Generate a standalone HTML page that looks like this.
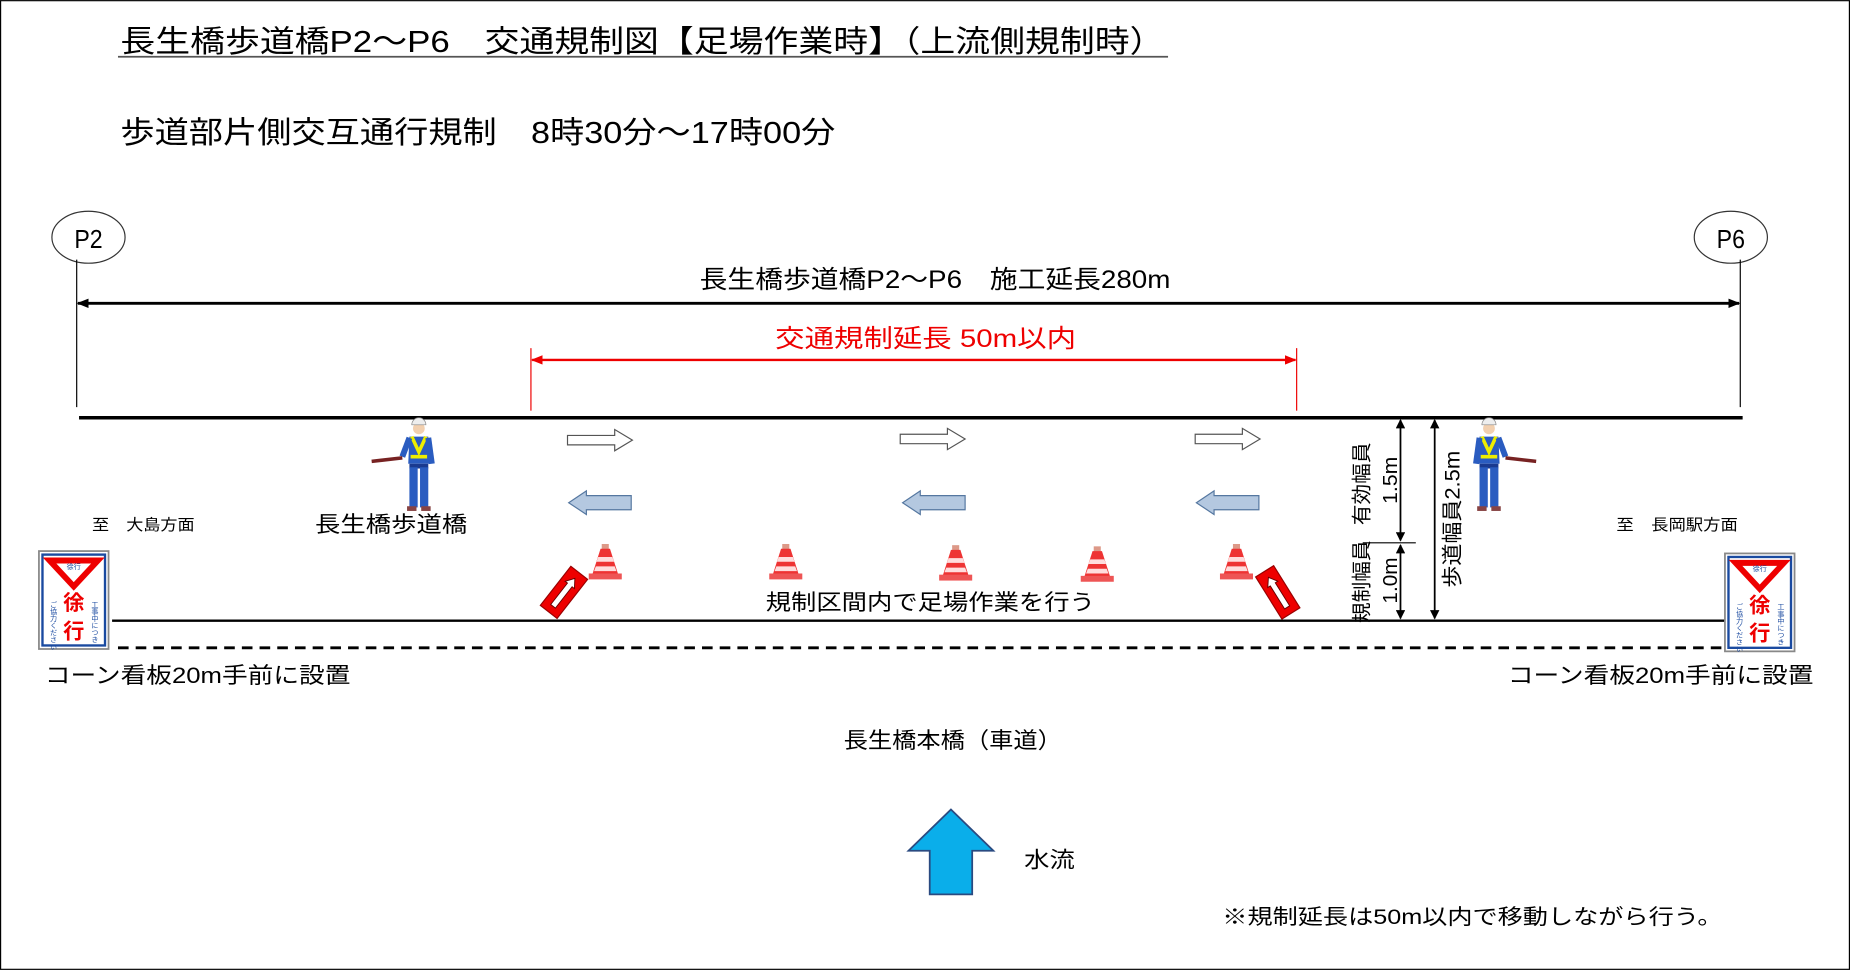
<!DOCTYPE html>
<html><head><meta charset="utf-8"><style>
html,body{margin:0;padding:0;background:#fff;}
svg{display:block;}
text{font-family:"Liberation Sans","Noto Sans CJK JP",sans-serif;fill:#000;}
</style></head><body>
<svg width="1850" height="970" viewBox="0 0 1568 822" xmlns="http://www.w3.org/2000/svg">
<defs>
<marker id="ab" markerWidth="10" markerHeight="8" refX="9" refY="4" orient="auto-start-reverse" markerUnits="userSpaceOnUse"><path d="M0,0 L10,4 L0,8 Z" fill="#000"/></marker>
<marker id="ar" markerWidth="10" markerHeight="8" refX="9" refY="4" orient="auto-start-reverse" markerUnits="userSpaceOnUse"><path d="M0,0 L10,4 L0,8 Z" fill="#e00"/></marker>
<marker id="as" markerWidth="8" markerHeight="8" refX="7" refY="4" orient="auto-start-reverse" markerUnits="userSpaceOnUse"><path d="M0,0 L8,4 L0,8 Z" fill="#000"/></marker>
<g id="cone">
<rect x="-3" y="0" width="6" height="5" fill="#d98"/>
<path d="M-4,4 L4,4 L11,26 L-11,26 Z" fill="#e33"/>
<path d="M-6,11 L6,11 L7.5,15 L-7.5,15 Z" fill="#fdd"/>
<path d="M-8,19 L8,19 L9.5,23 L-9.5,23 Z" fill="#fdd"/>
<rect x="-14" y="25" width="28" height="5" fill="#e55"/>
</g>
<g id="rsign">
<rect x="-9" y="-21" width="18" height="42" fill="#e00" stroke="#900" stroke-width="1"/>
<path d="M0,-15 L5,-8 L2.5,-8 L2.5,15 L-2.5,15 L-2.5,-8 L-5,-8 Z" fill="#fff" stroke="#600" stroke-width="0.8"/>
</g>
<g id="rarrow"><path d="M0,-4 L40,-4 L40,-9 L55,0 L40,9 L40,4 L0,4 Z" fill="#fff" stroke="#555" stroke-width="1"/></g>
<g id="larrow"><path d="M53,-6 L15,-6 L15,-10 L0,0 L15,10 L15,6 L53,6 Z" fill="#b4c8e0" stroke="#5577a0" stroke-width="1"/></g>
<g id="board">
<rect x="0" y="0" width="59" height="83" fill="#fff" stroke="#888" stroke-width="1.5"/>
<rect x="3" y="3" width="53" height="77" fill="#fff" stroke="#1a4aa0" stroke-width="2"/>
<path d="M9,8 L50,8 L29.5,30 Z" fill="#fff" stroke="#e00" stroke-width="5"/>
<text x="29.5" y="15" font-size="6" text-anchor="middle" style="fill:#1a4aa0">徐行</text>
<text x="29.5" y="50" font-size="18" font-weight="bold" text-anchor="middle" style="fill:#e00">徐</text>
<text x="29.5" y="74" font-size="18" font-weight="bold" text-anchor="middle" style="fill:#e00">行</text>
<text x="12" y="42" font-size="6" style="fill:#1a4aa0" writing-mode="tb">ご協力ください</text>
<text x="47" y="42" font-size="6" style="fill:#1a4aa0" writing-mode="tb">工事中につき</text>
</g>
<g id="worker">
<circle cx="0" cy="0" r="5" fill="#f2d0b0"/>
<path d="M-6,-3 A6,6 0 0 1 6,-3 Z" fill="#eee" stroke="#888" stroke-width="0.6"/>
<path d="M-8,7 L8,7 L9,30 L-9,30 Z" fill="#2a5cc0"/>
<path d="M-6,7 L0,20 L6,7 M-7,24 L7,24" stroke="#ee0" stroke-width="3" fill="none"/>
<rect x="-8" y="30" width="16" height="4" fill="#1a3a90"/>
<rect x="-8" y="33" width="7" height="34" fill="#2a5cc0"/>
<rect x="1" y="33" width="7" height="34" fill="#2a5cc0"/>
<rect x="-10" y="66" width="8" height="4" fill="#844"/>
<rect x="2" y="66" width="8" height="4" fill="#844"/>
<path d="M8,8 L11,30" stroke="#2a5cc0" stroke-width="5"/>
<path d="M-8,8 L-14,24" stroke="#2a5cc0" stroke-width="5"/>
<path d="M-14,25 L-40,28" stroke="#722" stroke-width="3"/>
</g>
</defs>
<rect x="0.5" y="0.5" width="1567" height="821" fill="#fff" stroke="#000" stroke-width="1"/>

<text x="102" y="44" font-size="26" textLength="885" lengthAdjust="spacingAndGlyphs">長生橋歩道橋P2～P6　交通規制図【足場作業時】（上流側規制時）</text>
<line x1="100" y1="48" x2="990" y2="48" stroke="#555" stroke-width="1.5"/>
<text x="102" y="121" font-size="26" textLength="606" lengthAdjust="spacingAndGlyphs">歩道部片側交互通行規制　8時30分～17時00分</text>

<ellipse cx="75" cy="201" rx="31" ry="22" fill="#fff" stroke="#333" stroke-width="1"/>
<text x="75" y="210" font-size="22" text-anchor="middle" textLength="24" lengthAdjust="spacingAndGlyphs">P2</text>
<ellipse cx="1467" cy="201" rx="31" ry="22" fill="#fff" stroke="#333" stroke-width="1"/>
<text x="1467" y="210" font-size="22" text-anchor="middle" textLength="24" lengthAdjust="spacingAndGlyphs">P6</text>

<text x="593" y="244" font-size="21" textLength="399" lengthAdjust="spacingAndGlyphs">長生橋歩道橋P2～P6　施工延長280m</text>
<line x1="65" y1="220" x2="65" y2="345" stroke="#000" stroke-width="1"/>
<line x1="1475" y1="220" x2="1475" y2="345" stroke="#000" stroke-width="1"/>
<line x1="66" y1="257" x2="1474" y2="257" stroke="#000" stroke-width="2.5" marker-start="url(#ab)" marker-end="url(#ab)"/>

<text x="657" y="294" font-size="21" textLength="255" lengthAdjust="spacingAndGlyphs" style="fill:#e00">交通規制延長 50m以内</text>
<line x1="450" y1="295" x2="450" y2="348" stroke="#e00" stroke-width="1"/>
<line x1="1099" y1="295" x2="1099" y2="348" stroke="#e00" stroke-width="1"/>
<line x1="451" y1="305" x2="1098" y2="305" stroke="#e00" stroke-width="2" marker-start="url(#ar)" marker-end="url(#ar)"/>

<line x1="67" y1="354" x2="1477" y2="354" stroke="#000" stroke-width="3"/>
<line x1="95" y1="526" x2="1462" y2="526" stroke="#000" stroke-width="2"/>
<line x1="100" y1="549" x2="1460" y2="549" stroke="#000" stroke-width="2.5" stroke-dasharray="9,6"/>

<use href="#rarrow" x="481" y="373"/>
<use href="#rarrow" x="763" y="372"/>
<use href="#rarrow" x="1013" y="372"/>
<use href="#larrow" x="482" y="426"/>
<use href="#larrow" x="765" y="426"/>
<use href="#larrow" x="1014" y="426"/>

<use href="#cone" x="513" y="461"/>
<use href="#cone" x="666" y="461"/>
<use href="#cone" x="810" y="462"/>
<use href="#cone" x="930" y="463"/>
<use href="#cone" x="1048" y="461"/>

<g transform="translate(478,502) rotate(38)"><use href="#rsign"/></g>
<g transform="translate(1083,502) rotate(-32)"><use href="#rsign"/></g>

<use href="#worker" x="355" y="363"/>
<g transform="translate(1262,363) scale(-1,1)"><use href="#worker"/></g>

<use href="#board" x="33" y="467"/>
<use href="#board" x="1462" y="469"/>

<line x1="1155" y1="460" x2="1200" y2="460" stroke="#000" stroke-width="1"/>
<line x1="1187" y1="356" x2="1187" y2="458" stroke="#000" stroke-width="1.5" marker-start="url(#as)" marker-end="url(#as)"/>
<line x1="1187" y1="462" x2="1187" y2="524" stroke="#000" stroke-width="1.5" marker-start="url(#as)" marker-end="url(#as)"/>
<line x1="1216" y1="356" x2="1216" y2="524" stroke="#000" stroke-width="1.5" marker-start="url(#as)" marker-end="url(#as)"/>

<text transform="translate(1160,410) rotate(-90)" font-size="17" text-anchor="middle" textLength="70" lengthAdjust="spacingAndGlyphs">有効幅員</text>
<text transform="translate(1184,407) rotate(-90)" font-size="17" text-anchor="middle" textLength="40" lengthAdjust="spacingAndGlyphs">1.5m</text>
<text transform="translate(1160,493) rotate(-90)" font-size="17" text-anchor="middle" textLength="70" lengthAdjust="spacingAndGlyphs">規制幅員</text>
<text transform="translate(1184,492) rotate(-90)" font-size="17" text-anchor="middle" textLength="39" lengthAdjust="spacingAndGlyphs">1.0m</text>
<text transform="translate(1237,440) rotate(-90)" font-size="18" text-anchor="middle" textLength="116" lengthAdjust="spacingAndGlyphs">歩道幅員2.5m</text>

<text x="78" y="449" font-size="13" textLength="87" lengthAdjust="spacingAndGlyphs">至　大島方面</text>
<text x="267" y="451" font-size="19" textLength="129" lengthAdjust="spacingAndGlyphs">長生橋歩道橋</text>
<text x="1370" y="449" font-size="13" textLength="103" lengthAdjust="spacingAndGlyphs">至　長岡駅方面</text>
<text x="649" y="517" font-size="19" textLength="279" lengthAdjust="spacingAndGlyphs">規制区間内で足場作業を行う</text>
<text x="38" y="579" font-size="19" textLength="259" lengthAdjust="spacingAndGlyphs">コーン看板20m手前に設置</text>
<text x="1278" y="579" font-size="19" textLength="259" lengthAdjust="spacingAndGlyphs">コーン看板20m手前に設置</text>
<text x="715" y="634" font-size="19" textLength="185" lengthAdjust="spacingAndGlyphs">長生橋本橋（車道）</text>

<path d="M806,686 L842,721 L824,721 L824,758 L788,758 L788,721 L770,721 Z" fill="#0aaeea" stroke="#2a4a80" stroke-width="1.5"/>
<text x="868" y="735" font-size="19" textLength="43" lengthAdjust="spacingAndGlyphs">水流</text>
<text x="1036" y="783" font-size="18" textLength="424" lengthAdjust="spacingAndGlyphs">※規制延長は50m以内で移動しながら行う。</text>
</svg>
</body></html>
